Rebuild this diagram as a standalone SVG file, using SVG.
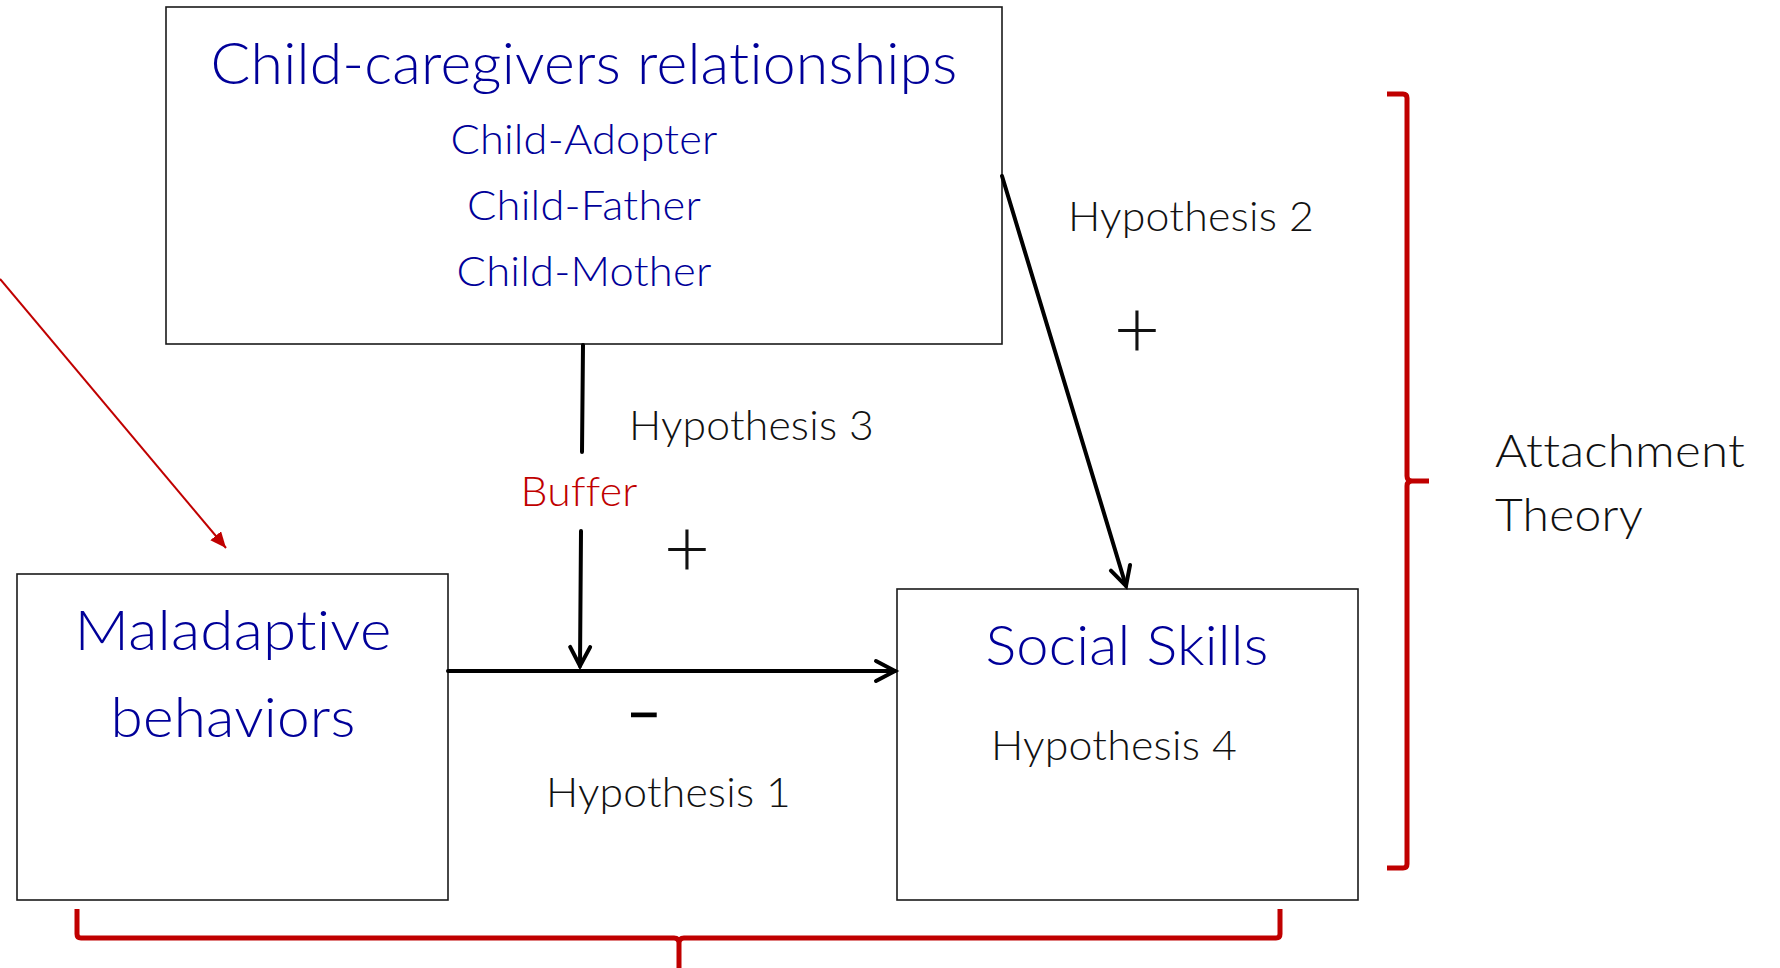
<svg xmlns="http://www.w3.org/2000/svg" width="1780" height="968" viewBox="0 0 1780 968">
<defs>
<style>
.box{fill:#fff;stroke:#1a1a1a;stroke-width:1.6}
.t{font-family:Lato,"Open Sans","Liberation Sans",sans-serif;font-weight:300;font-variant-ligatures:none;font-feature-settings:"liga" 0,"dlig" 0,"calt" 0;letter-spacing:0.2px}
.blue{fill:#000099}
.blk{fill:#111}
.red{fill:#c00000}
.conn{fill:none;stroke:#000;stroke-width:4;stroke-linecap:round}
.brace{fill:none;stroke:#c00000;stroke-width:5;stroke-linejoin:round}
</style>
<marker id="open" markerUnits="userSpaceOnUse" markerWidth="28" markerHeight="28" refX="22" refY="13" orient="auto">
<path d="M3,3 L22,13 L3,23" fill="none" stroke="#000" stroke-width="4" stroke-linejoin="miter" stroke-linecap="round"/>
</marker>
<marker id="redtri" markerUnits="userSpaceOnUse" markerWidth="20" markerHeight="16" refX="16" refY="7" orient="auto">
<path d="M0,0 L16,7 L0,14 Z" fill="#c00000"/>
</marker>
</defs>
<rect width="1780" height="968" fill="#fff"/>

<g id="node-caregivers">
<rect class="box" x="166" y="7" width="836" height="337"/>
<text class="t blue" x="584" y="84" font-size="58" text-anchor="middle" textLength="747" lengthAdjust="spacingAndGlyphs">Child-caregivers relationships</text>
<text class="t blue" x="584" y="154" font-size="42" text-anchor="middle" textLength="267" lengthAdjust="spacingAndGlyphs">Child-Adopter</text>
<text class="t blue" x="584" y="220" font-size="42" text-anchor="middle" textLength="234" lengthAdjust="spacingAndGlyphs">Child-Father</text>
<text class="t blue" x="584" y="286" font-size="42" text-anchor="middle" textLength="255" lengthAdjust="spacingAndGlyphs">Child-Mother</text>
</g>

<g id="node-maladaptive">
<rect class="box" x="17" y="574" width="431" height="326"/>
<text class="t blue" x="233" y="650" font-size="56" text-anchor="middle" textLength="317" lengthAdjust="spacingAndGlyphs">Maladaptive</text>
<text class="t blue" x="233" y="737" font-size="56" text-anchor="middle" textLength="245" lengthAdjust="spacingAndGlyphs">behaviors</text>
</g>

<g id="node-social">
<rect class="box" x="897" y="589" width="461" height="311"/>
<text class="t blue" x="1127" y="665" font-size="56" text-anchor="middle" textLength="283" lengthAdjust="spacingAndGlyphs">Social Skills</text>
<text class="t blk" x="991" y="760" font-size="41" textLength="246" lengthAdjust="spacingAndGlyphs">Hypothesis 4</text>
</g>

<g id="connectors">
<line class="conn" x1="448" y1="671" x2="895" y2="671" stroke-width="5.5" stroke-linecap="butt" marker-end="url(#open)"/>
<line class="conn" x1="583" y1="345" x2="582" y2="452" stroke-linecap="butt"/>
<line class="conn" x1="581" y1="531" x2="580" y2="666" stroke-linecap="butt" marker-end="url(#open)"/>
<line class="conn" x1="1002" y1="176" x2="1126" y2="586" stroke-linecap="butt" marker-end="url(#open)"/>
<line x1="0" y1="279" x2="226" y2="548" stroke="#c00000" stroke-width="2" marker-end="url(#redtri)"/>
</g>

<g id="labels">
<text class="t red" x="579" y="506" font-size="41" text-anchor="middle" textLength="117" lengthAdjust="spacingAndGlyphs">Buffer</text>
<text class="t blk" x="629" y="440" font-size="41" textLength="245" lengthAdjust="spacingAndGlyphs">Hypothesis 3</text>
<text class="t blk" x="1068" y="231" font-size="41" textLength="246" lengthAdjust="spacingAndGlyphs">Hypothesis 2</text>
<text class="t blk" x="546" y="807" font-size="41" textLength="245" lengthAdjust="spacingAndGlyphs">Hypothesis 1</text>
<text class="t blk" x="687" y="577" font-size="80" text-anchor="middle" font-weight="200">+</text>
<text class="t blk" x="1137" y="358" font-size="80" text-anchor="middle" font-weight="200">+</text>
<text class="t blk" x="644" y="735" font-size="62" text-anchor="middle" stroke="#000" stroke-width="2.5" textLength="33" lengthAdjust="spacingAndGlyphs">−</text>
<text class="t blk" x="1495" y="467" font-size="46" textLength="250" lengthAdjust="spacingAndGlyphs">Attachment</text>
<text class="t blk" x="1495" y="531" font-size="46" textLength="148" lengthAdjust="spacingAndGlyphs">Theory</text>
</g>

<g id="braces">
<path class="brace" d="M1387,94 L1403,94 Q1407,94 1407,98 L1407,476 Q1407,481 1412,481 L1429,481 M1412,481 Q1407,481 1407,486 L1407,864 Q1407,868 1403,868 L1387,868"/>
<path class="brace" d="M77,909 L77,934 Q77,938 81,938 L674,938 Q679,938 679,943 L679,968 M679,943 Q679,938 684,938 L1276,938 Q1280,938 1280,934 L1280,909"/>
</g>
</svg>
